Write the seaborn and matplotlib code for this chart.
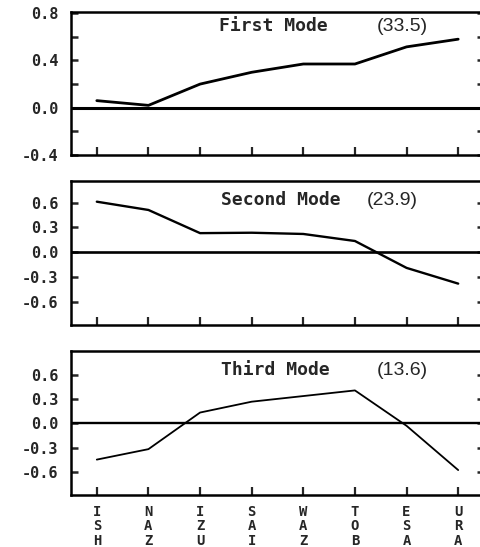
import matplotlib
matplotlib.use("Agg")
import matplotlib.pyplot as plt
import seaborn as sns
import pandas as pd
from matplotlib.ticker import FixedLocator

stations = ["ISH", "NAZ", "IZU", "SAI", "WAZ", "TOB", "ESA", "URA"]
mode1 = [0.06, 0.02, 0.20, 0.30, 0.37, 0.37, 0.515, 0.58]
mode2 = [0.61, 0.51, 0.23, 0.235, 0.22, 0.135, -0.19, -0.38]
mode3 = [-0.45, -0.32, 0.135, 0.27, 0.34, 0.41, -0.03, -0.58]
titles = ["First Mode", "Second Mode", "Third Mode"]
variances = ["(33.5)", "(23.9)", "(13.6)"]
ticks1 = [0.8, 0.4, 0.0, -0.4]
ticklabels1 = ["0.8", "0.4", "0.0", "-0.4"]
minor1 = [0.6, 0.2, -0.2]
ticks23 = [0.6, 0.3, 0.0, -0.3, -0.6]
ticklabels23 = ["0.6", "0.3", "0.0", "-0.3", "-0.6"]

sns.set_style("ticks")
plt.rcParams["font.family"] = ["DejaVu Sans Mono", "DejaVu Sans"]
plt.rcParams["font.weight"] = "bold"

W, H = 481, 547
fig = plt.figure(figsize=(W / 100, H / 100), dpi=100)

def frac_box(top_px, bot_px, left_px=71, right_px=484):
    return [left_px / W, 1 - bot_px / H, (right_px - left_px) / W, (bot_px - top_px) / H]

boxes = [frac_box(12, 155), frac_box(181, 325), frac_box(351, 495)]
series = [mode1, mode2, mode3]
ylims = [(-0.4, 0.81), (-0.88, 0.86), (-0.89, 0.90)]
line_w = [2.0, 1.7, 1.3]
zero_w = [2.2, 1.9, 1.7]
title_y = [0.90, 0.868, 0.868]
title_x = [0.489, 0.508, 0.496]
var_x = [0.74, 0.715, 0.74]

for i in range(3):
    ax = fig.add_axes(boxes[i])
    df = pd.DataFrame({"pos": range(len(stations)), "value": series[i]})
    sns.lineplot(data=df, x="pos", y="value", ax=ax, color="black",
                 linewidth=line_w[i])
    ax.axhline(0, color="black", linewidth=zero_w[i], zorder=1)
    ax.set_xlim(-0.5, len(stations) - 0.5)
    ax.set_ylim(*ylims[i])
    ax.set_xlabel("")
    ax.set_ylabel("")
    for s in ax.spines.values():
        s.set_visible(True)
        s.set_linewidth(1.8)
        s.set_color("black")
    if i == 0:
        ax.yaxis.set_major_locator(FixedLocator(ticks1))
        ax.set_yticklabels(ticklabels1, fontweight="bold")
        ax.yaxis.set_minor_locator(FixedLocator(minor1))
    else:
        ax.yaxis.set_major_locator(FixedLocator(ticks23))
        ax.set_yticklabels(ticklabels23, fontweight="bold")
    ax.set_xticks(range(len(stations)))
    if i == 2:
        ax.set_xticklabels(["\n".join(s) for s in stations],
                           fontsize=10, fontweight="bold", linespacing=1.06)
    else:
        ax.set_xticklabels([])
    ax.tick_params(axis="y", which="both", direction="in", left=True, right=True,
                   length=5, width=1.8, labelsize=11, pad=9)
    ax.tick_params(axis="x", which="both", direction="in", bottom=True, top=False,
                   length=6, width=1.6, pad=7)
    ax.text(title_x[i], title_y[i], titles[i], transform=ax.transAxes,
            fontsize=13, fontweight="bold", ha="center", va="center")
    ax.text(var_x[i], title_y[i], variances[i], transform=ax.transAxes,
            fontsize=14, family="Liberation Sans", fontweight="normal",
            ha="left", va="center")

fig.savefig("out.png", dpi=100)
